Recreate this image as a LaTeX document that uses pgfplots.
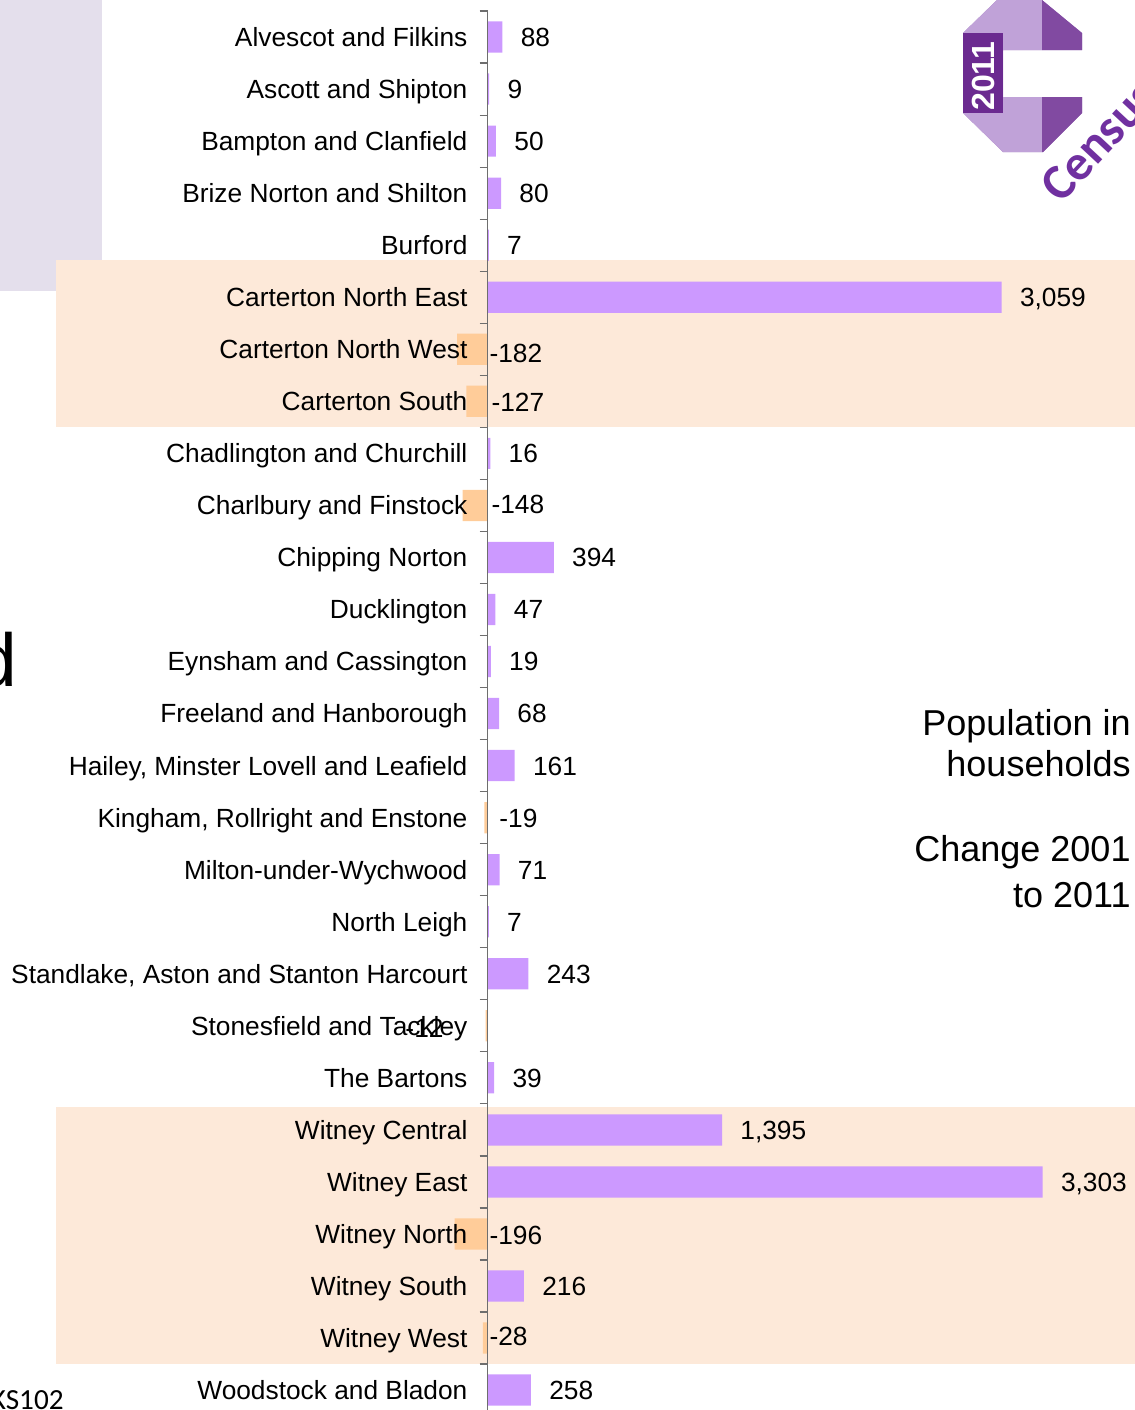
\documentclass[border=0pt]{standalone}
\usepackage{fontspec}
\setmainfont{Liberation Sans}
\newfontfamily\carlito{Carlito}
\usepackage{pgfplots}
\pgfplotsset{compat=1.18}
\definecolor{posbar}{HTML}{CC99FF}
\definecolor{negbar}{HTML}{FFCC99}
\definecolor{band}{HTML}{FDE9D9}
\definecolor{lav}{HTML}{E4DFEC}
\definecolor{logodark}{HTML}{6B2A90}
\definecolor{logomid}{HTML}{A47CC4}
\definecolor{logolight}{HTML}{C0A2D8}
\definecolor{censustext}{HTML}{7030A0}
\definecolor{axisgray}{HTML}{6E6E6E}
\begin{document}
\begin{tikzpicture}
\useasboundingbox (0pt,0pt) rectangle (567.5pt,-705pt);
\clip (0pt,0pt) rectangle (567.5pt,-705pt);
\begin{scope}[x=0.5pt,y=-0.5pt]
\fill[lav] (0,0) rectangle (102,291);
\fill[band] (56,260) rectangle (1135,427);
\fill[band] (56,1107) rectangle (1135,1364);
\end{scope}
\begin{axis}[
  at={(243.8pt,-5.5pt)}, anchor=north west,
  scale only axis, width=323.5pt, height=702.54pt,
  xmin=0, xmax=3850.5, ymin=-0.5, ymax=26.5, y dir=reverse,
  axis x line=none, axis y line*=left, clip=false, axis on top,
  y axis line style={axisgray, line width=0.55pt},
  ytick={0,...,26},
  yticklabels={Alvescot and Filkins, Ascott and Shipton, Bampton and Clanfield, Brize Norton and Shilton, Burford, Carterton North East, Carterton North West, Carterton South, Chadlington and Churchill, Charlbury and Finstock, Chipping Norton, Ducklington, Eynsham and Cassington, Freeland and Hanborough, {Hailey, Minster Lovell and Leafield}, {Kingham, Rollright and Enstone}, Milton-under-Wychwood, North Leigh, {Standlake, Aston and Stanton Harcourt}, Stonesfield and Tackley, The Bartons, Witney Central, Witney East, Witney North, Witney South, Witney West, Woodstock and Bladon},
  minor ytick={-0.5,0.5,...,26.5},
  major tick length=0pt, minor tick length=4pt, tick align=outside,
  minor tick style={axisgray, line width=0.6pt},
  yticklabel style={font=\fontsize{13.15}{15}\selectfont, anchor=east, inner sep=0pt, xshift=-9.9pt, text height=9.4pt, text depth=0pt},
  bar width=0.6,
  /pgf/number format/1000 sep={,},
  /pgf/number format/assume math mode=true,
]
\addplot[xbar, bar shift=0pt, fill=posbar, draw=none, nodes near coords, point meta=x,
  every node near coord/.append style={font=\fontsize{13.15}{15}\selectfont, anchor=west, inner sep=0pt, xshift=9pt, text height=9.4pt, text depth=0pt, black}]
  coordinates {(88,0) (9,1) (50,2) (80,3) (7,4) (3059,5) (16,8) (394,10) (47,11) (19,12) (68,13) (161,14) (71,16) (7,17) (243,18) (39,20) (1395,21) (3303,22) (216,24) (258,26)};
\addplot[xbar, bar shift=0pt, fill=negbar, draw=none]
  coordinates {(-182,6) (-127,7) (-148,9) (-19,15) (-12,19) (-196,23) (-28,25)};
\addplot[draw=none, mark=none, nodes near coords={\pgfplotspointmeta}, point meta=explicit symbolic,
  every node near coord/.append style={font=\fontsize{13.15}{15}\selectfont, anchor=west, inner sep=0pt, text height=9.4pt, text depth=0pt, black}]
  coordinates {(9,6.08) [-182] (21,7.02) [-127] (21,8.97) [-148] (68,15.01) [-19] (-491,19.04) [-12] (9,23.02) [-196] (9,24.96) [-28]};
\end{axis}
\begin{scope}[x=0.5pt,y=-0.5pt]
% logo
\fill[logomid] (963,33) -- (997,0) -- (1042,0) -- (1082,33) -- (1082,50) -- (1003,50) -- (1003,97) -- (1082,97) -- (1082,113) -- (1043,152) -- (1003,152) -- (963,113) -- cycle;
\fill[logolight] (963,113) -- (1003,113) -- (1003,97) -- (1042,97) -- (1042,152) -- (1003,152) -- cycle;
\fill[logolight] (963,33) -- (997,0) -- (1042,0) -- (1042,50) -- (1003,50) -- (1003,33) -- cycle;
\fill[logodark] (963,33) rectangle (1003,113);
\fill[logodark!85] (1042,0) -- (1082,33) -- (1082,50) -- (1042,50) -- cycle;
\fill[logodark!85] (1042,97) -- (1082,97) -- (1082,113) -- (1043,152) -- (1042,152) -- cycle;
\node[rotate=90, white, inner sep=0pt, font=\bfseries\fontsize{16}{16}\selectfont] at (983,76) {2011};
\node[rotate=47, anchor=base west, inner sep=0pt, censustext, font=\carlito\bfseries\fontsize{25}{25}\selectfont] at (1061,205) {Census};
% right texts
\node[anchor=base east, inner sep=0pt, font=\fontsize{18}{20}\selectfont] at (1131,735) {Population in};
\node[anchor=base east, inner sep=0pt, font=\fontsize{18}{20}\selectfont] at (1131,776) {households};
\node[anchor=base east, inner sep=0pt, font=\fontsize{18}{20}\selectfont] at (1131,861) {Change 2001};
\node[anchor=base east, inner sep=0pt, font=\fontsize{18}{20}\selectfont] at (1131,907) {to 2011};
% cut-off slide texts
\node[anchor=base east, inner sep=0pt, font=\fontsize{37.5}{40}\selectfont] at (18,686) {d};
\node[anchor=base east, inner sep=0pt, font=\carlito\fontsize{14.6}{16}\selectfont] at (64,1409) {KS102};
\end{scope}
\end{tikzpicture}
\end{document}
